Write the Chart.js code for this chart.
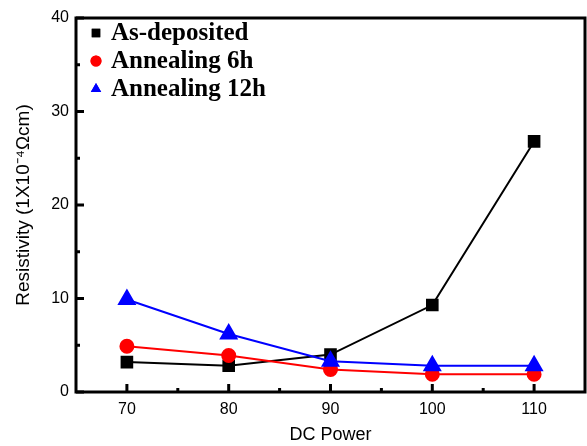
<!DOCTYPE html>
<html>
<head>
<meta charset="utf-8">
<script src="https://cdn.jsdelivr.net/npm/chart.js@4/dist/chart.umd.min.js"></script>
<style>
  html, body { margin: 0; padding: 0; background: #fff; }
  #wrap { width: 587px; height: 446px; }
</style>
</head>
<body>
<div id="wrap"><canvas id="chart" width="587" height="446"></canvas></div>
<script>
var power = [70, 80, 90, 100, 110];
var asDeposited = [3.2, 2.8, 4.0, 9.3, 26.8];
var annealing6h = [4.9, 3.9, 2.4, 1.9, 1.9];
var annealing12h = [9.9, 6.2, 3.3, 2.8, 2.8];
var xTicks = [70, 80, 90, 100, 110];
var xMinor = [75, 85, 95, 105];
var yTicks = [0, 10, 20, 30, 40];
var yMinor = [5, 15, 25, 35];

function pts(values) {
    return power.map(function (p, i) { return { x: p, y: values[i] }; });
}

// axes box, inward ticks and legend drawn on top of the chart
var framePlugin = {
    id: 'frame',
    afterDraw: function (chart) {
        var ctx = chart.ctx;
        var a = chart.chartArea;
        var xs = chart.scales.x, ys = chart.scales.y;
        ctx.save();
        ctx.strokeStyle = '#000';
        ctx.lineWidth = 3;
        ctx.strokeRect(a.left, a.top, a.right - a.left, a.bottom - a.top);
        ctx.beginPath();
        xTicks.forEach(function (v) {
            var px = xs.getPixelForValue(v);
            ctx.moveTo(px, a.bottom); ctx.lineTo(px, a.bottom - 8);
        });
        xMinor.forEach(function (v) {
            var px = xs.getPixelForValue(v);
            ctx.moveTo(px, a.bottom); ctx.lineTo(px, a.bottom - 4);
        });
        yTicks.forEach(function (v) {
            var py = ys.getPixelForValue(v);
            ctx.moveTo(a.left, py); ctx.lineTo(a.left + 8, py);
        });
        yMinor.forEach(function (v) {
            var py = ys.getPixelForValue(v);
            ctx.moveTo(a.left, py); ctx.lineTo(a.left + 4, py);
        });
        ctx.stroke();

        // legend
        var lx = a.left + 20, ty = a.top + 15, gap = 28;
        ctx.font = 'bold 25px "Liberation Serif", "Times New Roman", serif';
        ctx.textBaseline = 'middle';
        chart.data.datasets.forEach(function (ds, i) {
            var y = ty + i * gap;
            ctx.fillStyle = ds.pointBackgroundColor;
            ctx.beginPath();
            Chart.helpers.drawPoint(ctx, {
                pointStyle: ds.pointStyle,
                radius: ds.legendRadius,
                borderWidth: 0
            }, lx, y);
            ctx.fill();
            ctx.fillStyle = '#000';
            ctx.fillText(ds.label, lx + 15, y + 1);
        });
        ctx.restore();
    }
};

var ctx = document.getElementById('chart').getContext('2d');
var chart = new Chart(ctx, {
    type: 'line',
    data: {
        datasets: [{
            label: 'As-deposited',
            data: pts(asDeposited),
            borderColor: '#000000',
            backgroundColor: '#000000',
            pointBackgroundColor: '#000000',
            pointBorderColor: '#000000',
            pointStyle: 'rect',
            pointRadius: 7.5,
            legendRadius: 6,
            borderWidth: 2,
            order: 2
        }, {
            label: 'Annealing 6h',
            data: pts(annealing6h),
            borderColor: '#ff0000',
            backgroundColor: '#ff0000',
            pointBackgroundColor: '#ff0000',
            pointBorderColor: '#ff0000',
            pointStyle: 'circle',
            pointRadius: 6.5,
            legendRadius: 5.5,
            borderWidth: 2,
            order: 1
        }, {
            label: 'Annealing 12h',
            data: pts(annealing12h),
            borderColor: '#0000ff',
            backgroundColor: '#0000ff',
            pointBackgroundColor: '#0000ff',
            pointBorderColor: '#0000ff',
            pointStyle: 'triangle',
            pointRadius: 9,
            legendRadius: 6,
            borderWidth: 2,
            order: 0
        }]
    },
    options: {
        responsive: false,
        animation: false,
        layout: { autoPadding: false, padding: { top: 18, right: 2, left: 0, bottom: 0 } },
        plugins: {
            legend: { display: false },
            tooltip: { enabled: false }
        },
        elements: {
            point: { borderWidth: 0 },
            line: { tension: 0 }
        },
        scales: {
            x: {
                type: 'linear',
                min: 65,
                max: 115,
                afterBuildTicks: function (axis) {
                    axis.ticks = xTicks.map(function (v) { return { value: v }; });
                },
                afterFit: function (axis) {
                    axis.height = 54;
                },
                grid: { display: false, drawTicks: false },
                border: { display: false },
                ticks: {
                    color: '#000',
                    padding: 8,
                    font: { family: '"Liberation Sans", Arial, sans-serif', size: 16 }
                },
                title: {
                    display: true,
                    text: 'DC Power',
                    color: '#000',
                    padding: { top: 4, bottom: 0 },
                    font: { family: '"Liberation Sans", Arial, sans-serif', size: 18 }
                }
            },
            y: {
                type: 'linear',
                min: 0,
                max: 40,
                afterBuildTicks: function (axis) {
                    axis.ticks = yTicks.map(function (v) { return { value: v }; });
                },
                afterFit: function (axis) { axis.width = 76; },
                grid: { display: false, drawTicks: false },
                border: { display: false },
                ticks: {
                    color: '#000',
                    padding: 7,
                    font: { family: '"Liberation Sans", Arial, sans-serif', size: 16 }
                },
                title: {
                    display: true,
                    text: 'Resistivity (1X10\u207B\u2074\u03A9cm)',
                    color: '#000',
                    padding: { top: 12, bottom: 0 },
                    font: { family: '"Liberation Sans", Arial, sans-serif', size: 19 }
                }
            }
        }
    },
    plugins: [framePlugin]
});
</script>
</body>
</html>
